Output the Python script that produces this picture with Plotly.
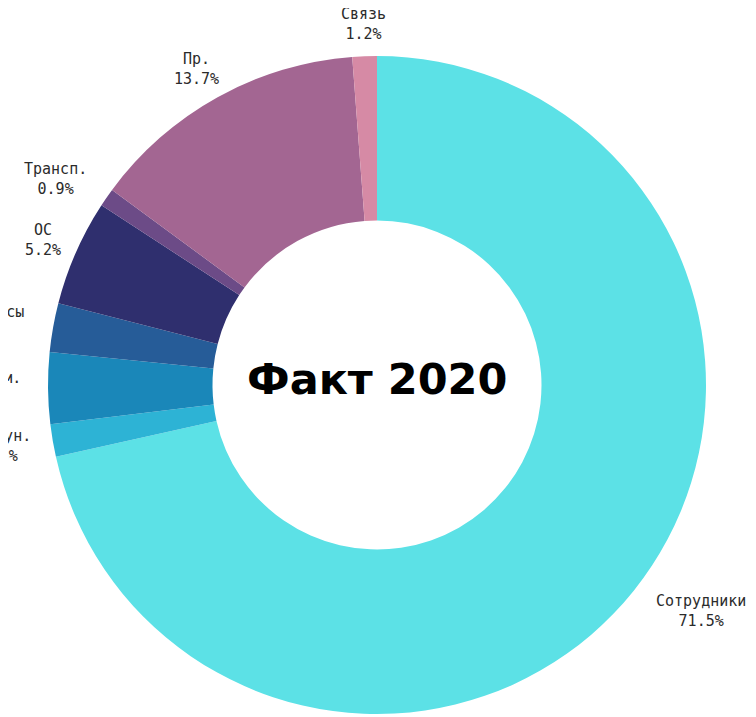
import math

import plotly.graph_objects as go

# expense structure, fact 2020 (share of total, %)
labels = ['Сотрудники', 'Коммун.', 'Аренда пом.', 'Страх. взносы',
          'ОС', 'Трансп.', 'Пр.', 'Связь']
shares = [71.5, 1.6, 3.5, 2.4, 5.2, 0.9, 13.7, 1.2]
colors = ['#5ce1e6', '#2db3d5', '#1a87b9', '#265c98',
          '#2f2f6e', '#6c4b87', '#a36692', '#d68aa5']

# the page body adds an 8px margin, so the figure is 8px smaller than the window
WIDTH, HEIGHT = 748, 709
MARGIN = dict(l=40, r=50, t=48, b=3)
PLOT_W = WIDTH - MARGIN['l'] - MARGIN['r']
PLOT_H = HEIGHT - MARGIN['t'] - MARGIN['b']
RADIUS = min(PLOT_W, PLOT_H) / 2.0

LABEL_SIZE = 15
LABEL_FONT = 'DejaVu Sans Mono'
LABEL_GAP = 14
CHAR_W = 0.602 * LABEL_SIZE


def label_annotations():
    """Outside labels, centred on a ray through the middle of each slice."""
    total = float(sum(shares))
    notes = []
    cum = 0.0
    for name, value in zip(labels, shares):
        mid = (cum + value / 2.0) / total * 2.0 * math.pi
        cum += value
        ux, uy = math.sin(mid), -math.cos(mid)
        pct = '{:.1f}%'.format(100.0 * value / total)
        half_w = 0.5 * CHAR_W * max(len(name), len(pct))
        half_first = 0.5 * CHAR_W * len(name)
        half_h = 18.0
        m = max(abs(ux), abs(uy))
        dx = (RADIUS + LABEL_GAP) * ux + (half_w + 0.25 * half_first) * ux / m
        dy = (RADIUS + LABEL_GAP) * uy + half_h * uy
        notes.append(dict(
            text='{}<br>{}'.format(name, pct),
            x=0.5 + dx / PLOT_W,
            y=0.5 - dy / PLOT_H,
            xref='paper',
            yref='paper',
            xanchor='center',
            yanchor='middle',
            align='center',
            showarrow=False,
            font=dict(family=LABEL_FONT, size=LABEL_SIZE, color='#2b2b2b'),
        ))
    return notes


fig = go.Figure()

fig.add_trace(go.Pie(
    labels=labels,
    values=shares,
    hole=0.5,
    sort=False,
    direction='clockwise',
    rotation=0,
    automargin=False,
    marker=dict(colors=colors, line=dict(width=0)),
    textinfo='none',
    hoverinfo='label+percent',
    showlegend=False,
))

annotations = label_annotations()
annotations.append(dict(
    text='<b>Факт 2020</b>',
    x=0.5,
    y=0.5,
    xref='paper',
    yref='paper',
    xanchor='center',
    yanchor='middle',
    yshift=6,
    showarrow=False,
    font=dict(family='DejaVu Sans', size=43, color='#000000'),
))

fig.update_layout(
    width=WIDTH,
    height=HEIGHT,
    margin=dict(MARGIN, autoexpand=False),
    paper_bgcolor='white',
    plot_bgcolor='white',
    annotations=annotations,
)

fig.write_html('out.html')
